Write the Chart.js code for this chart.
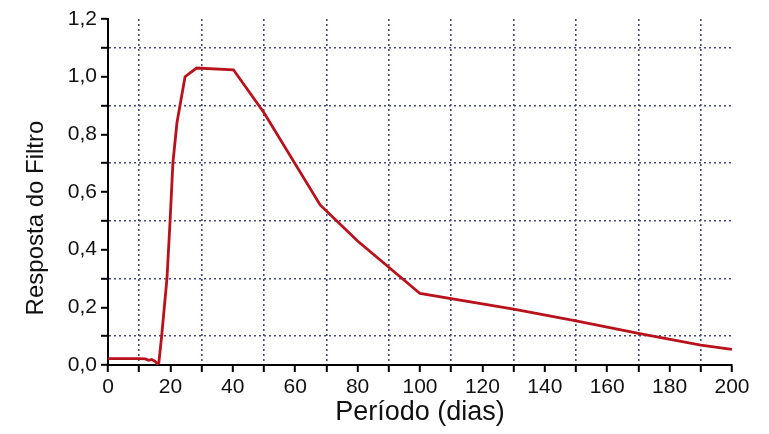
<!DOCTYPE html>
<html>
<head>
<meta charset="utf-8">
<script src="https://cdn.jsdelivr.net/npm/chart.js@4.4.1/dist/chart.umd.min.js"></script>
<style>
html,body{margin:0;padding:0;background:#fff;}
#wrap{width:769px;height:434px;position:relative;}
</style>
</head>
<body>
<div id="wrap"><canvas id="c" width="769" height="434"></canvas></div>
<script>
const periodo = [0, 5, 10, 12, 13, 14, 15, 15.8, 16.3, 17.2, 18.9, 19.9, 20.8, 22.1, 24.7, 28.4, 40.2, 50, 68, 80, 100, 130, 150, 170, 190, 200];
const resposta = [0.022, 0.022, 0.022, 0.021, 0.016, 0.019, 0.013, 0.005, 0.008, 0.1, 0.3, 0.5, 0.7, 0.84, 1.0, 1.03, 1.024, 0.875, 0.555, 0.43, 0.248, 0.194, 0.153, 0.11, 0.069, 0.054];
const xTitle = 'Período (dias)';
const yTitle = 'Resposta do Filtro';
const xRange = [0, 200];
const yRange = [0, 1.2];

const points = periodo.map((x, i) => ({x: x, y: resposta[i]}));
const gridColor = '#464a7c';
const fontFamily = '"Liberation Sans", Arial, sans-serif';

// draws the y title where the reference has it
const yTitlePlugin = {
  id: 'yTitlePlugin',
  afterDraw(chart) {
    const ctx = chart.ctx;
    ctx.save();
    ctx.translate(36, 218);
    ctx.rotate(-Math.PI / 2);
    ctx.font = '24px ' + fontFamily;
    ctx.fillStyle = '#111';
    ctx.textAlign = 'center';
    ctx.textBaseline = 'middle';
    ctx.fillText(yTitle, 0, 0);
    ctx.restore();
  }
};

new Chart(document.getElementById('c'), {
  type: 'line',
  data: {
    datasets: [{
      data: points,
      borderColor: '#b8121c',
      borderWidth: 2.8,
      pointRadius: 0,
      tension: 0,
      fill: false
    }]
  },
  options: {
    responsive: false,
    animation: false,
    events: [],
    layout: {padding: {left: 0, top: 19, right: 37, bottom: 0}},
    plugins: {legend: {display: false}, tooltip: {enabled: false}},
    scales: {
      x: {
        type: 'linear',
        min: xRange[0], max: xRange[1],
        afterFit: s => { s.height = 69; },
        border: {display: true, color: '#000', width: 2, dash: [2, 3]},
        grid: {
          color: ctx => (Math.round(ctx.tick.value / 10) % 2 === 1 ? gridColor : 'rgba(0,0,0,0)'),
          lineWidth: 1.6,
          tickColor: '#000',
          tickWidth: 2,
          tickLength: 7,
          drawTicks: true
        },
        ticks: {
          stepSize: 10,
          autoSkip: false,
          maxRotation: 0,
          padding: 3,
          color: '#111',
          font: {family: fontFamily, size: 21},
          callback: v => (Math.round(v / 10) % 2 === 0 ? String(v) : '')
        },
        title: {
          display: true,
          text: xTitle,
          color: '#111',
          font: {family: fontFamily, size: 27},
          padding: {top: 0, bottom: 5}
        }
      },
      y: {
        type: 'linear',
        min: yRange[0], max: yRange[1],
        afterFit: s => { s.width = 108; },
        border: {display: true, color: '#000', width: 2, dash: [2, 3]},
        grid: {
          color: ctx => (Math.round(ctx.tick.value * 10) % 2 === 1 ? gridColor : 'rgba(0,0,0,0)'),
          lineWidth: 1.6,
          tickColor: '#000',
          tickWidth: 2,
          tickLength: 7,
          drawTicks: true
        },
        ticks: {
          stepSize: 0.1,
          autoSkip: false,
          padding: 4,
          color: '#111',
          font: {family: fontFamily, size: 21},
          callback: v => (Math.round(v * 10) % 2 === 0 ? v.toFixed(1).replace('.', ',') : '')
        },
        title: {display: false}
      }
    }
  },
  plugins: [yTitlePlugin]
});
</script>
</body>
</html>
